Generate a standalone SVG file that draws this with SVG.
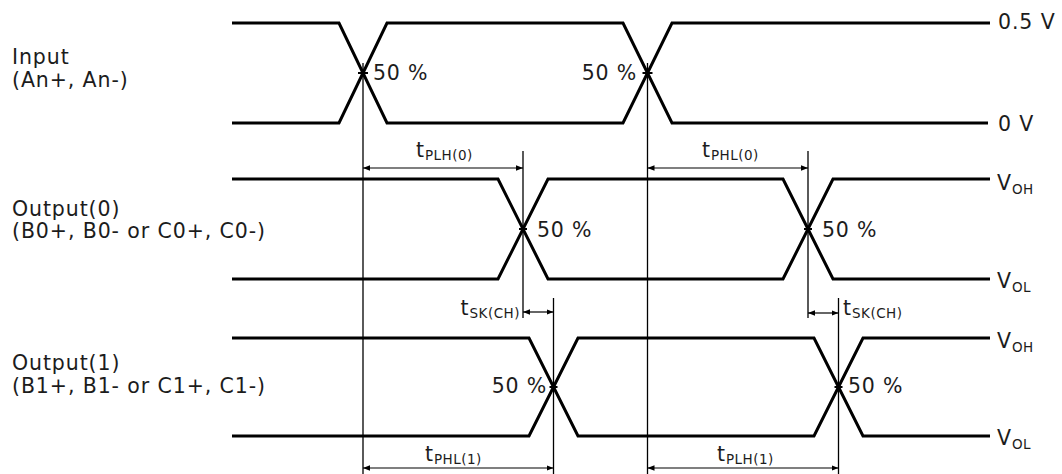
<svg xmlns="http://www.w3.org/2000/svg" width="1062" height="474" viewBox="0 0 1062 474">
<defs>
<style>
.wave{fill:none;stroke:#000;stroke-width:3;stroke-linejoin:miter}
.ref{fill:none;stroke:#000;stroke-width:1.3}
.dim{fill:none;stroke:#000;stroke-width:1.2;marker-start:url(#ah);marker-end:url(#ah)}
.tick{stroke:#000;stroke-width:2}
text{font-family:"DejaVu Sans","Verdana",sans-serif;fill:#1c1c1c}
.lbl{font-size:20.5px;letter-spacing:0.9px}
.pct{font-size:20.5px;letter-spacing:0.8px}
.sub{font-size:13.5px;letter-spacing:0.5px}
</style>
<marker id="ah" viewBox="0 0 10 10" refX="10" refY="5" markerWidth="7" markerHeight="7" orient="auto-start-reverse" markerUnits="userSpaceOnUse">
<path d="M0,1 L10,5 L0,9 Z" fill="#000"/>
</marker>
</defs>
<rect width="1062" height="474" fill="#fff"/>

<g id="input">
<path class="wave" d="M232,23 H339 L387,123 H623 L672,23 H990"/>
<path class="wave" d="M232,123 H339 L387,23 H623 L672,123 H988"/>
<text class="lbl" x="12" y="64">Input</text>
<text class="lbl" x="12" y="87">(An+, An-)</text>
<text class="pct" x="373" y="80">50 %</text>
<text class="pct" x="637" y="80" text-anchor="end">50 %</text>
<text class="lbl" x="998" y="29">0.5 V</text>
<text class="lbl" x="998" y="131">0 V</text>
</g>

<g id="output0">
<path class="wave" d="M232,179 H498 L548,279 H783 L833,179 H990"/>
<path class="wave" d="M232,279 H498 L548,179 H783 L833,279 H990"/>
<text class="lbl" x="12" y="216">Output(0)</text>
<text class="lbl" x="12" y="238">(B0+, B0- or C0+, C0-)</text>
<text class="pct" x="537" y="237">50 %</text>
<text class="pct" x="822" y="237">50 %</text>
<text class="lbl" x="997" y="190">V<tspan class="sub" dy="4">OH</tspan></text>
<text class="lbl" x="997" y="288">V<tspan class="sub" dy="4">OL</tspan></text>
</g>

<g id="output1">
<path class="wave" d="M232,338 H529 L578,436 H814 L863,338 H990"/>
<path class="wave" d="M232,436 H529 L578,338 H814 L863,436 H990"/>
<text class="lbl" x="12" y="370">Output(1)</text>
<text class="lbl" x="12" y="393">(B1+, B1- or C1+, C1-)</text>
<text class="pct" x="547" y="393" text-anchor="end">50 %</text>
<text class="pct" x="848" y="393">50 %</text>
<text class="lbl" x="997" y="348">V<tspan class="sub" dy="4">OH</tspan></text>
<text class="lbl" x="997" y="445">V<tspan class="sub" dy="4">OL</tspan></text>
</g>

<g id="connectors">
<line class="ref" x1="363" y1="63" x2="363" y2="474"/>
<line class="ref" x1="647.5" y1="63" x2="647.5" y2="474"/>
<line class="ref" x1="523" y1="151" x2="523" y2="318"/>
<line class="ref" x1="808" y1="151" x2="808" y2="318"/>
<line class="ref" x1="553.5" y1="298" x2="553.5" y2="474"/>
<line class="ref" x1="838.5" y1="298" x2="838.5" y2="474"/>
<line class="tick" x1="358" y1="73" x2="368" y2="73"/>
<line class="tick" x1="642.5" y1="73" x2="652.5" y2="73"/>
<line class="tick" x1="519" y1="229" x2="527" y2="229"/>
<line class="tick" x1="804" y1="229" x2="812" y2="229"/>
<line class="tick" x1="549.5" y1="387" x2="557.5" y2="387"/>
<line class="tick" x1="834.5" y1="387" x2="842.5" y2="387"/>
<line class="dim" x1="363" y1="168" x2="523" y2="168"/>
<line class="dim" x1="647.5" y1="168" x2="808" y2="168"/>
<line class="dim" x1="523" y1="312" x2="553.5" y2="312"/>
<line class="dim" x1="808" y1="313" x2="838.5" y2="313"/>
<line class="dim" x1="363" y1="468" x2="553.5" y2="468"/>
<line class="dim" x1="647.5" y1="468" x2="838.5" y2="468"/>
</g>

<g id="timing-labels">
<text class="lbl" x="416" y="157">t<tspan class="sub" dy="3">PLH(0)</tspan></text>
<text class="lbl" x="702" y="157">t<tspan class="sub" dy="3">PHL(0)</tspan></text>
<text class="lbl" x="520" y="315" text-anchor="end">t<tspan class="sub" dy="3">SK(CH)</tspan></text>
<text class="lbl" x="843" y="315">t<tspan class="sub" dy="3">SK(CH)</tspan></text>
<text class="lbl" x="425" y="461">t<tspan class="sub" dy="3">PHL(1)</tspan></text>
<text class="lbl" x="717" y="461">t<tspan class="sub" dy="3">PLH(1)</tspan></text>
</g>
</svg>
